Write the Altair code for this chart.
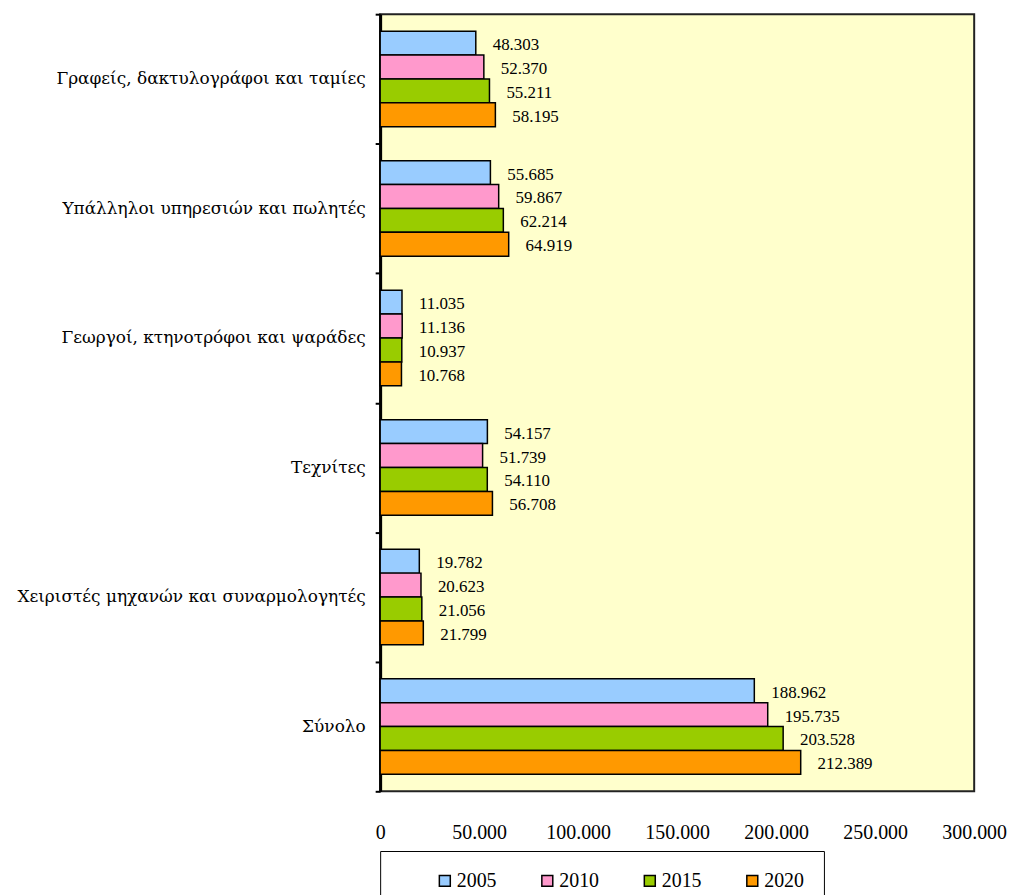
import altair as alt
import pandas as pd

categories = [
    "Γραφείς, δακτυλογράφοι και ταμίες",
    "Υπάλληλοι υπηρεσιών και πωλητές",
    "Γεωργοί, κτηνοτρόφοι και ψαράδες",
    "Τεχνίτες",
    "Χειριστές μηχανών και συναρμολογητές",
    "Σύνολο",
]
years = ["2005", "2010", "2015", "2020"]
v2005 = [48303, 55685, 11035, 54157, 19782, 188962]
v2010 = [52370, 59867, 11136, 51739, 20623, 195735]
v2015 = [55211, 62214, 10937, 54110, 21056, 203528]
v2020 = [58195, 64919, 10768, 56708, 21799, 212389]
x_ticks = [0, 50000, 100000, 150000, 200000, 250000, 300000]
colors = ["#99CCFF", "#FF99CC", "#99CC00", "#FF9900"]

rows = []
for yr, vals in zip(years, [v2005, v2010, v2015, v2020]):
    for c, v in zip(categories, vals):
        rows.append({"category": c, "year": yr, "value": v})
df = pd.DataFrame(rows)

FONT = "Liberation Serif"
GREEK_FONT = "DejaVu Serif"

base = alt.Chart(df).transform_calculate(
    label="replace(format(datum.value, ','), ',', '.')"
).encode(
    y=alt.Y(
        "category:N",
        sort=categories,
        scale=alt.Scale(paddingInner=0, paddingOuter=0),
        axis=alt.Axis(
            title=None,
            domainColor="black",
            domainWidth=3,
            tickBand="extent",
            tickColor="black",
            tickSize=5,
            tickWidth=2,
            labelFont=GREEK_FONT,
            labelFontSize=17,
            labelFontWeight=300,
            labelColor="black",
            labelPadding=10,
            labelLimit=0,
        ),
    ),
    yOffset=alt.YOffset(
        "year:N", sort=years, scale=alt.Scale(paddingInner=0, paddingOuter=0.71)
    ),
    x=alt.X(
        "value:Q",
        scale=alt.Scale(domain=[0, 300000], nice=False, zero=True),
        axis=alt.Axis(
            title=None,
            values=x_ticks,
            labelExpr="replace(format(datum.value, ','), ',', '.')",
            ticks=False,
            domain=False,
            grid=False,
            labelFont=FONT,
            labelFontSize=20,
            labelColor="black",
            labelPadding=31,
            labelFlush=False,
        ),
    ),
)

bars = base.mark_bar(stroke="black", strokeWidth=1.5).encode(
    color=alt.Color(
        "year:N",
        sort=years,
        scale=alt.Scale(domain=years, range=colors),
        legend=alt.Legend(
            title=None,
            orient="none",
            legendX=0,
            legendY=841,
            direction="horizontal",
            columns=4,
            symbolType="square",
            symbolSize=121,
            symbolStrokeColor="black",
            symbolStrokeWidth=1.5,
            symbolOffset=35,
            labelFont=FONT,
            labelFontSize=20,
            labelColor="black",
            labelOffset=2,
            columnPadding=6,
            padding=20,
            strokeColor="black",
            fillColor="white",
        ),
    )
)

labels = base.mark_text(
    align="left", baseline="middle", dx=17, dy=2, font=FONT, fontSize=17, color="black"
).encode(text="label:N")

chart = (
    alt.layer(bars, labels)
    .properties(
        width=597,
        height=781,
        autosize=alt.AutoSizeParams(type="none"),
        padding={"left": 374, "top": 4, "right": 37, "bottom": 102},
    )
    .configure_view(fill="#FFFFCC", stroke="#222222", strokeWidth=2)
)

chart.save("out.html", embed_options={"renderer": "svg", "actions": False})
